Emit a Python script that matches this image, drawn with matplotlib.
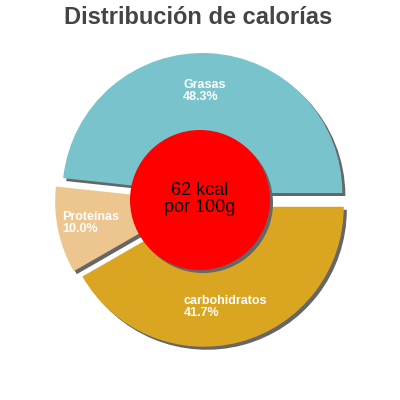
import matplotlib.pyplot as plt
import matplotlib.patches as mpatches

# data
labels = ["Grasas", "Proteínas", "carbohidratos"]
values = [48.3, 10.0, 41.7]
colors = ["#79c4cc", "#ecc58f", "#daa520"]
kcal = 62
title = "Distribución de calorías"

# label anchor positions in pixel space (x from left, y from top)
label_pos = [(183, 79), (62, 211), (184, 295)]

H = 400


def flip(y):
    return H - y


def main():
    fig = plt.figure(figsize=(4, 4), dpi=100)
    ax = fig.add_axes([0, 0, 1, 1])

    cx, cy, r = 202, flip(200), 140
    explode = [7, 7, 7]

    # shadow pass, then the real wedges
    ax.pie(values, colors=["#666666"] * 3, startangle=0, counterclock=True,
           explode=explode, center=(cx + 3, cy - 3), radius=r,
           wedgeprops=dict(linewidth=0))
    ax.pie(values, colors=colors, startangle=0, counterclock=True,
           explode=explode, center=(cx, cy), radius=r,
           wedgeprops=dict(linewidth=0))

    ax.add_patch(mpatches.Circle((203, flip(203)), 70, color="#666666", lw=0))
    ax.add_patch(mpatches.Circle((200, flip(200)), 70, color="#ff0000", lw=0))

    ax.text(200, flip(199), f"{kcal} kcal\npor 100g", ha="center", va="center",
            fontsize=13, family="Liberation Sans", color="black",
            linespacing=1.0)

    for (x, y), name, v in zip(label_pos, labels, values):
        ax.text(x, flip(y), f"{name}\n{v:.1f}%", ha="left", va="top",
                fontsize=9, fontweight="bold", family="Liberation Sans",
                color="white", linespacing=0.95)

    ax.text(198, flip(18), title, ha="center", va="center", fontsize=17,
            fontweight="bold", family="Liberation Sans", color="#444444")

    ax.set_xlim(0, 400)
    ax.set_ylim(0, 400)
    ax.set_aspect("equal")
    ax.axis("off")

    fig.savefig("out.png", dpi=100)


if __name__ == "__main__":
    main()
